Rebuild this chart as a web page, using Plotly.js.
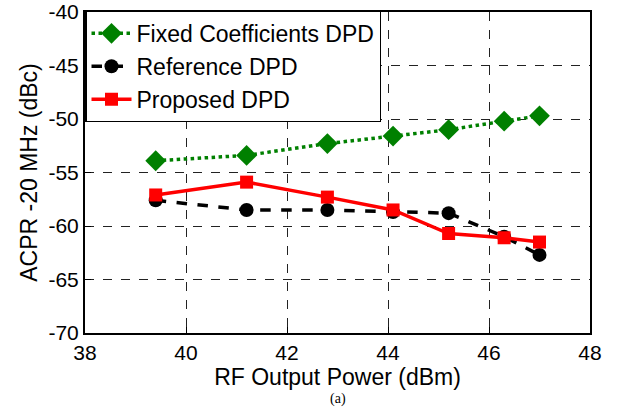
<!DOCTYPE html>
<html>
<head>
<meta charset="utf-8">
<script src="https://cdn.plot.ly/plotly-3.0.1.min.js"></script>
<style>html,body{margin:0;padding:0;background:#fff;}#chart{width:624px;height:414px;}</style>
</head>
<body>
<div id="chart"></div>
<script>
const powerX = [39.4, 41.2, 42.8, 44.1, 45.2, 46.3, 47.0];
const fixedDPD = [-53.9, -53.4, -52.3, -51.6, -51.0, -50.2, -49.7];
const referenceDPD = [-57.6, -58.5, -58.5, -58.7, -58.8, -61.0, -62.7];
const proposedDPD = [-57.1, -55.9, -57.3, -58.5, -60.7, -61.1, -61.5];
const xTicks = [38, 40, 42, 44, 46, 48];
const yTicks = [-70, -65, -60, -55, -50, -45, -40];

const traces = [
  {x: powerX, y: fixedDPD, name: 'Fixed Coefficients DPD', mode: 'lines+markers',
   line: {color: '#008000', width: 3.5, dash: 'dot'},
   marker: {symbol: 'diamond', size: 16, color: '#008000'}},
  {x: powerX, y: referenceDPD, name: 'Reference DPD', mode: 'lines+markers',
   line: {color: '#000000', width: 3.5, dash: 'dash'},
   marker: {symbol: 'circle', size: 14, color: '#000000'}},
  {x: powerX, y: proposedDPD, name: 'Proposed DPD', mode: 'lines+markers',
   line: {color: '#ff0000', width: 3.5, dash: 'solid'},
   marker: {symbol: 'square', size: 13, color: '#ff0000'}}
];

const fam = 'Liberation Sans, Arial, sans-serif';
const tickFont = {family: fam, size: 21, color: '#000'};
const titleFont = {family: fam, size: 23, color: '#000'};
const layout = {
  width: 624, height: 414,
  margin: {l: 85, r: 34, t: 10, b: 81},
  paper_bgcolor: '#fff', plot_bgcolor: '#fff',
  showlegend: true,
  font: tickFont,
  xaxis: {
    range: [38, 48], tickvals: xTicks, ticktext: xTicks.map(String),
    showgrid: true, gridcolor: '#222', griddash: 'dash', gridwidth: 1,
    showline: true, linecolor: '#000', linewidth: 2, mirror: true,
    ticks: 'inside', ticklen: 6, tickcolor: '#000', zeroline: false,
    tickfont: tickFont, ticklabeloverflow: 'allow',
    title: {text: 'RF Output Power (dBm)', font: titleFont, standoff: 0}
  },
  yaxis: {
    range: [-70, -40], tickvals: yTicks, ticktext: yTicks.map(String),
    showgrid: true, gridcolor: '#222', griddash: 'dash', gridwidth: 1,
    showline: true, linecolor: '#000', linewidth: 2, mirror: true,
    ticks: 'inside', ticklen: 6, tickcolor: '#000', zeroline: false,
    tickfont: tickFont, ticklabeloverflow: 'allow',
    title: {text: 'ACPR -20 MHz (dBc)', font: titleFont, standoff: 4}
  },
  legend: {
    x: 0, y: 1.005, xanchor: 'left', yanchor: 'top',
    bgcolor: '#fff', bordercolor: '#000', borderwidth: 1.5,
    font: {family: fam, size: 23, color: '#000'},
    tracegroupgap: 0, itemwidth: 40
  },
  annotations: [{
    text: '(a)', xref: 'paper', yref: 'paper', x: 0.5, y: -0.205,
    xanchor: 'center', yanchor: 'middle', showarrow: false,
    font: {family: 'Liberation Serif, Times New Roman, serif', size: 14, color: '#000'}
  }]
};

Plotly.newPlot('chart', traces, layout, {displayModeBar: false, staticPlot: true});
</script>
</body>
</html>
